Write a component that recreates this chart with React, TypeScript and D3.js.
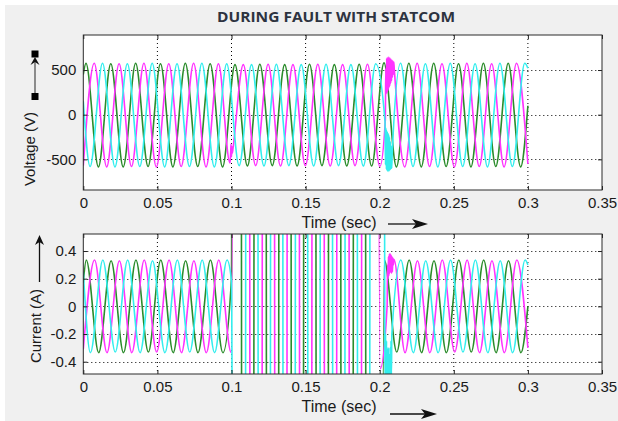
import React, { useEffect, useRef } from "react";
import * as d3 from "d3";

// axis ticks
const timeTicks = [0, 0.05, 0.1, 0.15, 0.2, 0.25, 0.3, 0.35];
const timeTickLabels = ["0", "0.05", "0.1", "0.15", "0.2", "0.25", "0.3", "0.35"];
const voltTicks = [-500, 0, 500];
const voltTickLabels = ["-500", "0", "500"];
const currTicks = [-0.4, -0.2, 0, 0.2, 0.4];
const currTickLabels = ["-0.4", "-0.2", "0", "0.2", "0.4"];

// time between successive peak / trough (read from the peak spacing)
const halfCycle = 0.00838;

const phaseColors = ["#2b8c2b", "#ff33ff", "#33eeee"];

// ---------- voltage, phase a (green) ----------
const vaStart = [0, 450];
const vaFirst = 0.0018;
const vaExtrema = [
  575, -585, 570, -585, 575, -580, 570, -585, 575, -580, 570, -585,
  560, -575, 565, -570, 560, -575, 565, -570, 560, -575, 565, -575,
  580, -585, 575, -585, 575, -580, 570, -585, 575, -580, 575, -585,
];
const vaEnd = [0.3, 100];
const vaBursts: number[][][] = [];

// ---------- voltage, phase b (magenta) ----------
const vbStart = [0, -570];
const vbFirst = 0.00739;
const vbExtrema = [
  575, -585, 570, -580, 575, -585, 570, -580, 575, -585, 570, -430,
  560, -570, 565, -575, 560, -570, 565, -575, 560, -570, 565, -580,
  600, -585, 575, -580, 570, -585, 575, -580, 570, -585, 575,
];
const vbEnd = [0.3, -550];
const vbFaultOn = [
  [0.099, -540], [0.0994, -440], [0.0997, -330], [0.1, -470],
  [0.1003, -360], [0.1006, -430], [0.101, -380],
];
const vbFaultOff = [
  [0.2038, -60], [0.2041, 520], [0.2044, 230], [0.2047, 630], [0.205, 250],
  [0.2053, 640], [0.2056, 270], [0.2059, 645], [0.2062, 300], [0.2065, 640],
  [0.2068, 320], [0.2071, 630], [0.2074, 350], [0.2077, 620], [0.208, 380],
  [0.2083, 610], [0.2086, 420], [0.2089, 600], [0.2092, 450], [0.2095, 590],
  [0.2098, 520],
];
const vbBursts = [vbFaultOn, vbFaultOff];

// ---------- voltage, phase c (cyan) ----------
const vcStart = [0, 150];
const vcFirst = 0.00459;
const vcExtrema = [
  -580, 575, -585, 570, -580, 575, -585, 570, -580, 575, -585, 570,
  -570, 560, -575, 565, -570, 560, -575, 565, -570, 560, -575, 570,
  -620, 575, -580, 570, -585, 575, -580, 570, -585, 575, -580, 575,
];
const vcEnd = [0.3, 520];
const vcFaultOff = [
  [0.2036, -80], [0.2039, -560], [0.2042, -150], [0.2045, -610], [0.2048, -180],
  [0.2051, -630], [0.2054, -200], [0.2057, -635], [0.206, -220], [0.2063, -630],
  [0.2066, -250], [0.2069, -620], [0.2072, -300], [0.2075, -610], [0.2078, -350],
  [0.2081, -600], [0.2084, -450],
];
const vcBursts = [vcFaultOff];

// ---------- current, phase a (green) ----------
const iaStart = [0, 0.17];
const iaFirst = 0.002;
const iaExtrema = [
  0.335, -0.335, 0.33, -0.335, 0.335, -0.33, 0.335, -0.335, 0.33, -0.335, 0.335, -0.335,
  40, -40, 40, -40, 40, -40, 40, -40, 40, -40, 40, -40,
  0.335, -0.33, 0.335, -0.335, 0.33, -0.335, 0.335, -0.33, 0.335, -0.335, 0.33, -0.335,
];
const iaEnd = [0.3, 0.0];
const iaBursts = [[[0.1, 0.2]]];

// ---------- current, phase b (magenta) ----------
const ibStart = [0, -0.31];
const ibFirst = 0.0076;
const ibExtrema = [
  0.335, -0.335, 0.33, -0.335, 0.335, -0.33, 0.335, -0.335, 0.33, -0.335, 0.335, -0.335,
  40, -40, 40, -40, 40, -40, 40, -40, 40, -40, 40,
  -0.45, 0.38,
  -0.335, 0.33, -0.335, 0.335, -0.33, 0.335, -0.335, 0.33, -0.335, 0.335,
];
const ibEnd = [0.3, -0.3];
const ibFaultOff = [
  [0.205, 0.0], [0.2053, 0.3], [0.2056, 0.2], [0.2059, 0.36], [0.2062, 0.22],
  [0.2065, 0.38], [0.2068, 0.24], [0.2071, 0.38], [0.2074, 0.25], [0.2077, 0.37],
  [0.208, 0.24], [0.2083, 0.36], [0.2086, 0.25], [0.2089, 0.35], [0.2092, 0.3],
  [0.2096, 0.34],
];
const ibBursts = [ibFaultOff];

// ---------- current, phase c (cyan) ----------
const icStart = [0, 0.25];
const icFirst = 0.0048;
const icExtrema = [
  -0.335, 0.335, -0.33, 0.335, -0.335, 0.33, -0.335, 0.335, -0.33, 0.335, -0.335, 0.335,
  -40, 40, -40, 40, -40, 40, -40, 40, -40, 40, -40, 40,
  -0.6,
  0.335, -0.335, 0.33, -0.335, 0.335, -0.33, 0.335, -0.335, 0.33, -0.335, 0.335,
];
const icEnd = [0.3, 0.3];
const icFaultOff = [
  [0.2034, -0.05], [0.2037, -0.6], [0.204, -0.2], [0.2043, -0.65], [0.2046, -0.25],
  [0.2049, -0.7], [0.2052, -0.3], [0.2055, -0.7], [0.2058, -0.3], [0.2061, -0.65],
  [0.2064, -0.35], [0.2067, -0.6], [0.207, -0.3], [0.2073, -0.55], [0.2076, -0.25],
  [0.2079, -0.5], [0.2082, -0.2],
];
const icBursts = [[[0.1, 0.18]], icFaultOff];

// combine start / extrema / end / transient bursts into one sorted list
function buildSeries(start, first, extrema, end, bursts) {
  let pts = [start, ...extrema.map((v, i) => [first + i * halfCycle, v]), end].filter(
    (p) => p[0] >= 0 && p[0] <= 0.3
  );
  bursts.forEach((b) => {
    const t0 = b[0][0];
    const t1 = b[b.length - 1][0];
    pts = pts.filter((p) => p[0] < t0 || p[0] > t1).concat(b);
  });
  return pts.sort((a, b) => a[0] - b[0]);
}

const left = 83.3;
const right = 602;

function drawPanel(svg, id, y0, y1, yDomain, yTicks, yLabels, series) {
  const x = d3.scaleLinear().domain([0, 0.35]).range([left, right]);
  const y = d3.scaleLinear().domain(yDomain).range([y1, y0]);

  svg
    .append("clipPath")
    .attr("id", id)
    .append("rect")
    .attr("x", left)
    .attr("y", y0)
    .attr("width", right - left)
    .attr("height", y1 - y0);

  svg
    .append("rect")
    .attr("x", left)
    .attr("y", y0)
    .attr("width", right - left)
    .attr("height", y1 - y0)
    .attr("fill", "#ffffff");

  // dotted grid
  svg
    .append("g")
    .selectAll("line")
    .data(timeTicks.slice(1, -1))
    .join("line")
    .attr("x1", (d) => x(d))
    .attr("x2", (d) => x(d))
    .attr("y1", y0)
    .attr("y2", y1)
    .attr("stroke", "#000")
    .attr("stroke-width", 1)
    .attr("stroke-dasharray", "1,3");
  svg
    .append("g")
    .selectAll("line")
    .data(yTicks)
    .join("line")
    .attr("x1", left)
    .attr("x2", right)
    .attr("y1", (d) => Math.round(y(d)) + 0.5)
    .attr("y2", (d) => Math.round(y(d)) + 0.5)
    .attr("stroke", "#000")
    .attr("stroke-width", 1)
    .attr("stroke-dasharray", "1,3");

  const line = d3
    .line()
    .x((d) => x(d[0]))
    .y((d) => y(d[1]))
    .curve(d3.curveMonotoneX);

  const wave = svg.append("g").attr("clip-path", `url(#${id})`);
  series.forEach((s, i) => {
    wave
      .append("path")
      .attr("d", line(s))
      .attr("fill", "none")
      .attr("stroke", phaseColors[i])
      .attr("stroke-width", 1.6)
      .attr("stroke-linejoin", "round");
  });

  // axes with inward ticks
  const xAxis = d3
    .axisBottom(x)
    .tickValues(timeTicks)
    .tickFormat((d, i) => timeTickLabels[i])
    .tickSizeInner(-4)
    .tickSizeOuter(0)
    .tickPadding(7);
  const yAxis = d3
    .axisLeft(y)
    .tickValues(yTicks)
    .tickFormat((d, i) => yLabels[i])
    .tickSizeInner(-4)
    .tickSizeOuter(0)
    .tickPadding(7);

  const gx = svg.append("g").attr("transform", `translate(0,${y1})`).call(xAxis);
  const gy = svg.append("g").attr("transform", `translate(${left},0)`).call(yAxis);
  svg
    .append("g")
    .attr("transform", `translate(0,${y0})`)
    .call(d3.axisTop(x).tickValues(timeTicks).tickFormat(() => "").tickSizeInner(-4).tickSizeOuter(0));
  svg
    .append("g")
    .attr("transform", `translate(${right},0)`)
    .call(d3.axisRight(y).tickValues(yTicks).tickFormat(() => "").tickSizeInner(-4).tickSizeOuter(0));

  svg.selectAll(".domain").remove();
  [gx, gy].forEach((g) =>
    g
      .selectAll("text")
      .attr("font-family", "'Liberation Sans', Arial, sans-serif")
      .attr("font-size", 15)
      .attr("fill", "#1a1a1a")
  );
  svg.selectAll(".tick line").attr("stroke", "#222");

  svg
    .append("rect")
    .attr("x", left)
    .attr("y", y0)
    .attr("width", right - left)
    .attr("height", y1 - y0)
    .attr("fill", "none")
    .attr("stroke", "#2a2a2a")
    .attr("stroke-width", 1);
}

function drawChart(node) {
  const svg = d3.select(node);
  svg.selectAll("*").remove();

  svg.append("rect").attr("width", 618).attr("height", 421).attr("fill", "#ffffff");
  svg.append("rect").attr("x", 5).attr("y", 5).attr("width", 613).attr("height", 416).attr("fill", "#f0f0f0");

  svg
    .append("text")
    .attr("x", 336)
    .attr("y", 21.5)
    .attr("text-anchor", "middle")
    .attr("font-family", "'Open Sans', 'DejaVu Sans', sans-serif")
    .attr("font-weight", 700)
    .attr("font-size", 14)
    .attr("fill", "#2d3340")
    .attr("textLength", 238)
    .attr("lengthAdjust", "spacingAndGlyphs")
    .text("DURING FAULT WITH STATCOM");

  const voltSeries = [
    buildSeries(vaStart, vaFirst, vaExtrema, vaEnd, vaBursts),
    buildSeries(vbStart, vbFirst, vbExtrema, vbEnd, vbBursts),
    buildSeries(vcStart, vcFirst, vcExtrema, vcEnd, vcBursts),
  ];
  const currSeries = [
    buildSeries(iaStart, iaFirst, iaExtrema, iaEnd, iaBursts),
    buildSeries(ibStart, ibFirst, ibExtrema, ibEnd, ibBursts),
    buildSeries(icStart, icFirst, icExtrema, icEnd, icBursts),
  ];

  drawPanel(svg, "clipV", 35, 190, [-843, 892], voltTicks, voltTickLabels, voltSeries);
  drawPanel(svg, "clipI", 234, 374, [-0.489, 0.523], currTicks, currTickLabels, currSeries);

  const font = "'Liberation Sans', Arial, sans-serif";

  // x labels with arrows
  const xLabels = [
    { y: 228, arrowY: 224, x1: 388, tip: 428 },
    { y: 412, arrowY: 414, x1: 390, tip: 437 },
  ];
  xLabels.forEach((l) => {
    svg
      .append("text")
      .attr("x", 301.5)
      .attr("y", l.y)
      .attr("font-family", font)
      .attr("font-size", 16)
      .attr("fill", "#1a1a1a")
      .text("Time (sec)");
    svg
      .append("line")
      .attr("x1", l.x1)
      .attr("x2", l.tip - 10)
      .attr("y1", l.arrowY)
      .attr("y2", l.arrowY)
      .attr("stroke", "#111")
      .attr("stroke-width", 1.3);
    svg
      .append("path")
      .attr("d", `M${l.tip},${l.arrowY} L${l.tip - 16},${l.arrowY - 5} L${l.tip - 12},${l.arrowY} L${l.tip - 16},${l.arrowY + 5} Z`)
      .attr("fill", "#111");
  });

  // y labels
  svg
    .append("text")
    .attr("transform", "translate(35,149) rotate(-90)")
    .attr("text-anchor", "middle")
    .attr("font-family", font)
    .attr("font-size", 15)
    .attr("fill", "#1a1a1a")
    .text("Voltage (V)");
  svg
    .append("text")
    .attr("transform", "translate(41,326) rotate(-90)")
    .attr("text-anchor", "middle")
    .attr("font-family", font)
    .attr("font-size", 15)
    .attr("fill", "#1a1a1a")
    .text("Current (A)");

  // voltage arrow with handles
  svg.append("line").attr("x1", 35).attr("x2", 35).attr("y1", 94).attr("y2", 61).attr("stroke", "#555").attr("stroke-width", 1.3);
  svg.append("path").attr("d", "M35,57 L39.5,65 L35,62 L30.5,65 Z").attr("fill", "#111");
  svg.append("rect").attr("x", 31.5).attr("y", 50.5).attr("width", 7).attr("height", 7).attr("fill", "#000");
  svg.append("rect").attr("x", 31.5).attr("y", 93).attr("width", 7).attr("height", 7).attr("fill", "#000");

  // current arrow
  svg.append("line").attr("x1", 39.5).attr("x2", 39.5).attr("y1", 282).attr("y2", 240).attr("stroke", "#111").attr("stroke-width", 1.3);
  svg.append("path").attr("d", "M39.5,235 L44,245 L39.5,242 L35,245 Z").attr("fill", "#111");
}

export default function App() {
  const ref = useRef<SVGSVGElement>(null);
  useEffect(() => {
    drawChart(ref.current);
  }, []);
  return (
    <svg
      ref={ref}
      width={618}
      height={421}
      style={{ position: "absolute", left: 0, top: 0, display: "block" }}
    />
  );
}
